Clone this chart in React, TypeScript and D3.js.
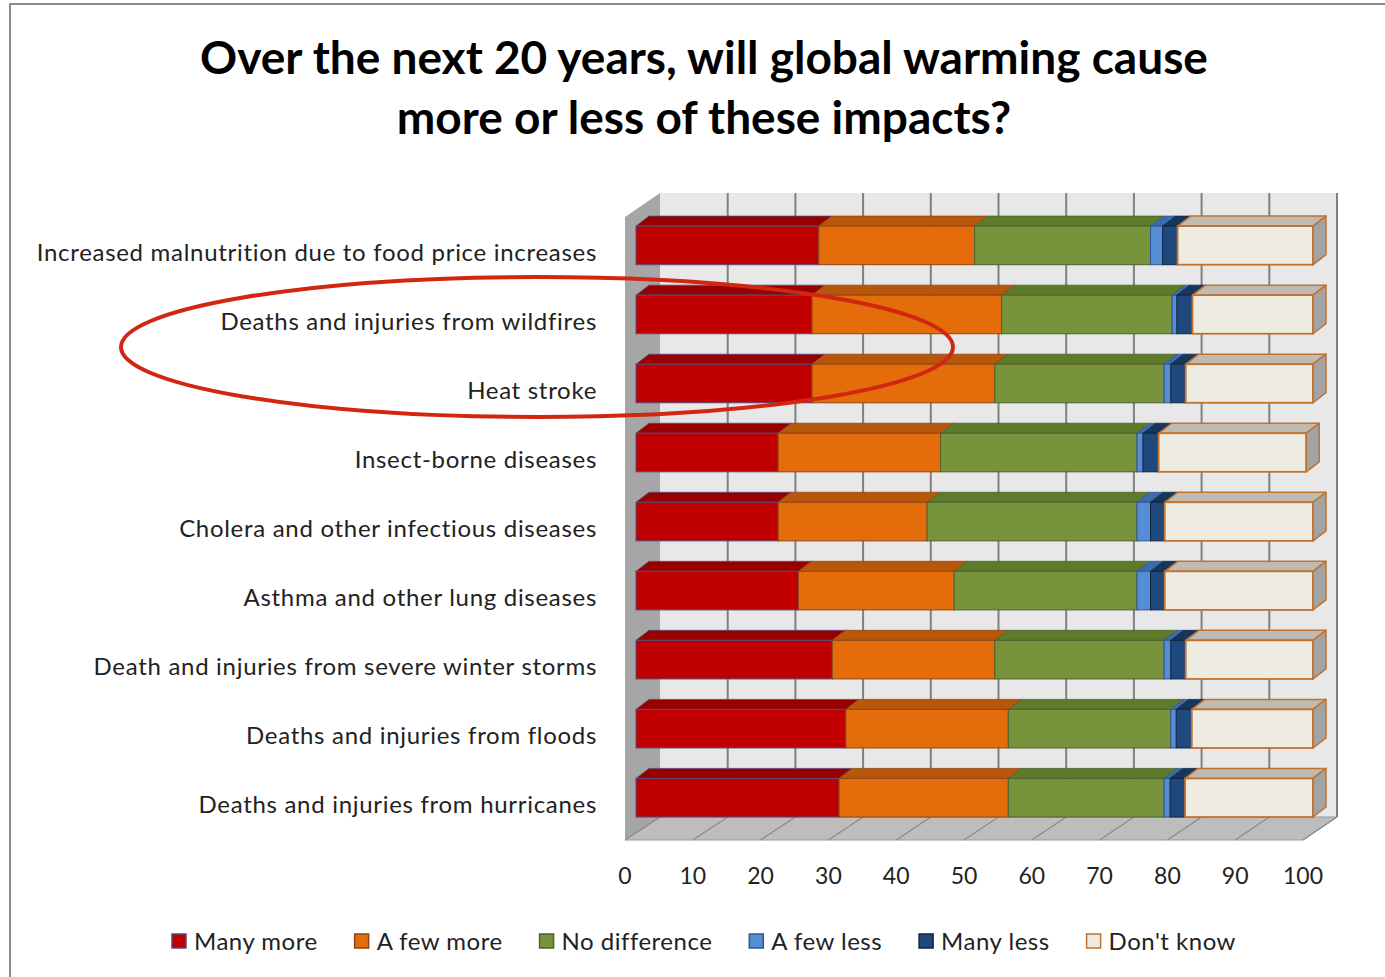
import React, { useEffect, useRef } from "react";
import * as d3 from "d3";

const categories = [
  "Increased malnutrition due to food price increases",
  "Deaths and injuries from wildfires",
  "Heat stroke",
  "Insect-borne diseases",
  "Cholera and other infectious diseases",
  "Asthma and other lung diseases",
  "Death and injuries from severe winter storms",
  "Deaths and injuries from floods",
  "Deaths and injuries from hurricanes",
];
const seriesNames = ["Many more", "A few more", "No difference", "A few less", "Many less", "Don't know"];
const manyMore = [27, 26, 26, 21, 21, 24, 29, 31, 30];
const aFewMore = [23, 28, 27, 24, 22, 23, 24, 24, 25];
const noDifference = [26, 25.2, 25, 29, 31, 27, 25, 24, 23];
const aFewLess = [1.8, 0.7, 1, 0.9, 2, 2, 1, 0.8, 0.9];
const manyLess = [2.2, 2.3, 2.2, 2.3, 2.1, 2.1, 2.2, 2.3, 2.2];
const dontKnow = [20, 17.8, 18.8, 21.8, 21.9, 21.9, 18.8, 17.9, 18.9];
const xTicks = [0, 10, 20, 30, 40, 50, 60, 70, 80, 90, 100];
const titleLines = ["Over the next 20 years, will global warming cause", "more or less of these impacts?"];

const frontColors = ["#c00000", "#e46c0a", "#77933c", "#558ed5", "#1f497d", "#eeece1"];
const topColors = ["#980000", "#b8560a", "#5e7a2b", "#3d6cab", "#16365c", "#bfbab2"];
const strokeColors = ["#574a78", "#8e4616", "#4f6228", "#2f5597", "#10253f", "#c0722f"];

export default function App() {
  const ref = useRef<SVGSVGElement | null>(null);

  useEffect(() => {
    const svg = d3.select(ref.current);
    svg.selectAll("*").remove();
    const font = "Lato, 'Open Sans', sans-serif";

    // geometry
    const wallTop = 193;
    const floorFront = 840;
    const floorBack = 817;
    const xFront = d3.scaleLinear().domain([0, 100]).range([625, 1303]);
    const xBack = d3.scaleLinear().domain([0, 100]).range([660, 1337]);
    const xBar = d3.scaleLinear().domain([0, 100]).range([636, 1313]);
    const yRow = d3.scalePoint<string>().domain(categories).range([245.4, 245.4 + 8 * 69.04]);
    const barH = 38.6;
    const bdx = 13, bdy = 10;

    // border
    svg.append("path").attr("d", "M10,977 L10,4 L1385,4").attr("fill", "none").attr("stroke", "#8c8c8c").attr("stroke-width", 2);

    // title
    const title = svg.append("text").attr("font-family", font).attr("font-weight", 700).attr("font-size", 46).attr("fill", "#000").attr("text-anchor", "middle");
    titleLines.forEach((t, i) => {
      title.append("tspan").attr("x", 704).attr("y", 74 + i * 60).text(t);
    });

    // back wall
    svg.append("rect").attr("x", xBack(0)).attr("y", wallTop).attr("width", xBack(100) - xBack(0)).attr("height", floorBack - wallTop).attr("fill", "#e8e8e8");
    svg.selectAll(".grid").data(xTicks.slice(1)).enter().append("line")
      .attr("x1", (d) => xBack(d)).attr("x2", (d) => xBack(d))
      .attr("y1", wallTop).attr("y2", floorBack)
      .attr("stroke", "#808080").attr("stroke-width", 2);
    // left wall
    svg.append("path")
      .attr("d", `M${xFront(0)},${wallTop + 24} L${xBack(0)},${wallTop} L${xBack(0)},${floorBack} L${xFront(0)},${floorFront} Z`)
      .attr("fill", "#a6a6a6");
    // floor
    svg.append("path")
      .attr("d", `M${xFront(0)},${floorFront} L${xFront(100)},${floorFront} L${xBack(100)},${floorBack} L${xBack(0)},${floorBack} Z`)
      .attr("fill", "#bdbdbd").attr("stroke", "#9a9a9a").attr("stroke-width", 1);
    svg.selectAll(".fl").data(xTicks).enter().append("line")
      .attr("x1", (d) => xFront(d)).attr("y1", floorFront)
      .attr("x2", (d) => xBack(d)).attr("y2", floorBack)
      .attr("stroke", "#8a8a8a").attr("stroke-width", 1.2);

    // stacked data
    const table = categories.map((c, i) => ({
      cat: c,
      "Many more": manyMore[i],
      "A few more": aFewMore[i],
      "No difference": noDifference[i],
      "A few less": aFewLess[i],
      "Many less": manyLess[i],
      "Don't know": dontKnow[i],
    }));
    const stacked = d3.stack<any>().keys(seriesNames)(table);

    categories.forEach((c, ci) => {
      const yT = (yRow(c) as number) - barH / 2;
      const g = svg.append("g");
      stacked.forEach((layer, si) => {
        const [a, b] = layer[ci];
        const x0 = xBar(a), x1 = xBar(b);
        g.append("path")
          .attr("d", `M${x0},${yT} L${x0 + bdx},${yT - bdy} L${x1 + bdx},${yT - bdy} L${x1},${yT} Z`)
          .attr("fill", topColors[si]).attr("stroke", strokeColors[si]).attr("stroke-width", si === 5 ? 1.5 : 0.8).attr("stroke-linejoin", "round");
      });
      stacked.forEach((layer, si) => {
        const [a, b] = layer[ci];
        const x0 = xBar(a), x1 = xBar(b);
        g.append("rect").attr("x", x0).attr("y", yT).attr("width", x1 - x0).attr("height", barH)
          .attr("fill", frontColors[si]).attr("stroke", strokeColors[si]).attr("stroke-width", si === 5 ? 1.8 : 1);
        if (si === stacked.length - 1) {
          g.append("path")
            .attr("d", `M${x1},${yT} L${x1 + bdx},${yT - bdy} L${x1 + bdx},${yT - bdy + barH} L${x1},${yT + barH} Z`)
            .attr("fill", "#a3a3a3").attr("stroke", strokeColors[si]).attr("stroke-width", 1.5).attr("stroke-linejoin", "round");
        }
      });
    });

    // category labels
    svg.selectAll(".cl").data(categories).enter().append("text")
      .attr("x", 597).attr("y", (d) => (yRow(d) as number) + 15.6)
      .attr("text-anchor", "end").attr("font-family", font).attr("font-size", 24).attr("letter-spacing", 0.7).attr("fill", "#222")
      .text((d) => d);

    // x axis labels
    svg.selectAll(".xl").data(xTicks).enter().append("text")
      .attr("x", (d) => xFront(d)).attr("y", 884)
      .attr("text-anchor", "middle").attr("font-family", font).attr("font-size", 23).attr("fill", "#222")
      .text((d) => String(d));

    // legend
    const lg = svg.append("g");
    let lx = 172;
    seriesNames.forEach((s, i) => {
      lg.append("rect").attr("x", lx).attr("y", 934).attr("width", 14).attr("height", 14)
        .attr("fill", frontColors[i]).attr("stroke", strokeColors[i]).attr("stroke-width", 1.5);
      const t = lg.append("text").attr("x", lx + 22).attr("y", 950).attr("font-family", font).attr("font-size", 24).attr("letter-spacing", 0.5).attr("fill", "#222").text(s);
      const w = (t.node() as SVGTextElement).getComputedTextLength();
      lx += 22 + w + 37;
    });

    // annotation ellipse
    svg.append("ellipse").attr("cx", 537).attr("cy", 347).attr("rx", 416).attr("ry", 70)
      .attr("fill", "none").attr("stroke", "#d1260f").attr("stroke-width", 4);
  }, []);

  return (
    <svg ref={ref} width={1385} height={977} style={{ position: "absolute", left: 0, top: 0, background: "#fff" }} />
  );
}
